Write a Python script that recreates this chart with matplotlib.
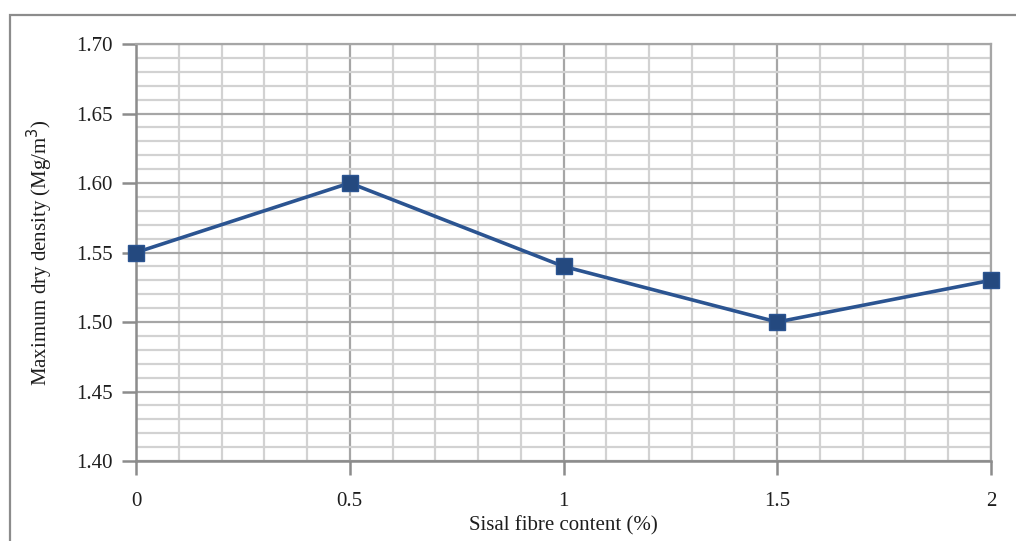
import matplotlib.pyplot as plt
from matplotlib.patches import Rectangle
from matplotlib.ticker import MultipleLocator

# data
fibre = [0, 0.5, 1, 1.5, 2]
density = [1.55, 1.60, 1.54, 1.50, 1.53]

plt.rcParams['font.family'] = ['Liberation Serif', 'DejaVu Serif']

fig = plt.figure(figsize=(10.16, 5.41), dpi=100)
ax = fig.add_axes([136 / 1016, 1 - 461 / 541, 855 / 1016, 417 / 541])

# outer frame around the chart
fig.patches.append(Rectangle((10 / 1016, 0 - 0.01), 1.1, 1 - 15 / 541 + 0.01,
                             transform=fig.transFigure, fill=False,
                             edgecolor='#8c8c8c', linewidth=1.6, clip_on=False))

ax.plot(fibre, density, color='#2b5491', linewidth=2.6, marker='s',
        markersize=11, markerfacecolor='#24497f', markeredgecolor='#2b5491',
        zorder=5, clip_on=False)

ax.set_xlim(0, 2)
ax.set_ylim(1.40, 1.70)
ax.xaxis.set_minor_locator(MultipleLocator(0.1))
ax.yaxis.set_minor_locator(MultipleLocator(0.01))
ax.set_xticks(fibre)
ax.set_xticklabels(['0', '0.5', '1', '1.5', '2'])
ax.set_yticks([1.40, 1.45, 1.50, 1.55, 1.60, 1.65, 1.70])
ax.set_yticklabels(['1.40', '1.45', '1.50', '1.55', '1.60', '1.65', '1.70'])

ax.grid(which='minor', color='#d2d2d2', linewidth=1.6)
ax.grid(which='major', color='#a6a6a6', linewidth=1.6)
ax.set_axisbelow(True)

for side in ['top', 'right']:
    ax.spines[side].set_color('#a6a6a6')
    ax.spines[side].set_linewidth(1.6)
for side in ['left', 'bottom']:
    ax.spines[side].set_color('#8c8c8c')
    ax.spines[side].set_linewidth(1.8)

ax.tick_params(which='major', length=10, width=1.8, color='#8c8c8c',
               labelsize=15, labelcolor='#1e1e1e', pad=12)
ax.tick_params(axis='y', which='major', pad=7)
ax.tick_params(which='minor', length=0)

ax.set_xlabel('Sisal fibre content (%)', fontsize=15, color='#1e1e1e', labelpad=4)
ax.set_ylabel('Maximum dry density (Mg/m$^3$)', fontsize=15, color='#1e1e1e', labelpad=15)

fig.savefig('out.png', dpi=100)
